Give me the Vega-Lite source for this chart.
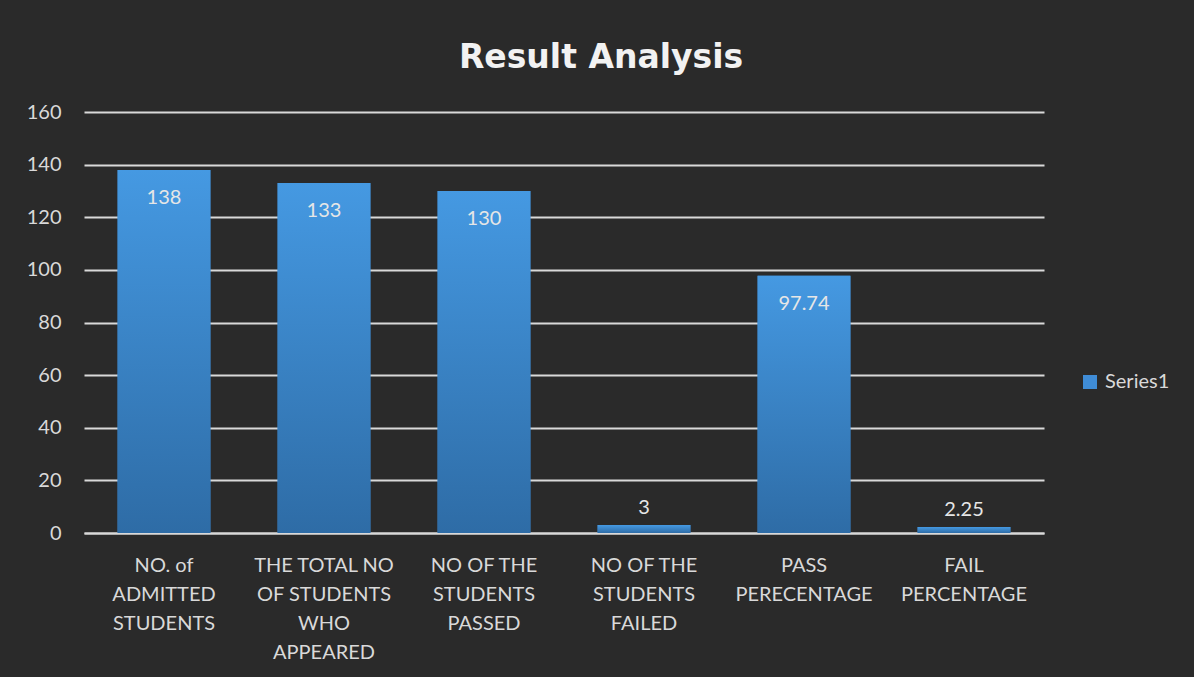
{
  "$schema": "https://vega.github.io/schema/vega-lite/v6.json",
  "width": 960,
  "height": 421,
  "autosize": {"type": "none"},
  "padding": {"left": 84, "top": 112, "right": 150, "bottom": 144},
  "background": "#2a2a2a",
  "title": {
    "text": "Result Analysis",
    "font": "DejaVu Sans",
    "fontSize": 33,
    "fontWeight": "bold",
    "color": "#f2f2f2",
    "anchor": "middle",
    "dx": 37,
    "offset": 27,
    "limit": 0
  },
  "config": {
    "view": {"stroke": null},
    "font": "Lato",
    "text": {"font": "Lato"}
  },
  "data": {
    "values": [
      {"category": "NO. of|ADMITTED|STUDENTS", "value": 138, "series": "Series1"},
      {"category": "THE TOTAL NO|OF STUDENTS|WHO|APPEARED", "value": 133, "series": "Series1"},
      {"category": "NO OF THE|STUDENTS|PASSED", "value": 130, "series": "Series1"},
      {"category": "NO OF THE|STUDENTS|FAILED", "value": 3, "series": "Series1"},
      {"category": "PASS|PERECENTAGE", "value": 97.74, "series": "Series1"},
      {"category": "FAIL|PERCENTAGE", "value": 2.25, "series": "Series1"}
    ]
  },
  "encoding": {
    "x": {
      "field": "category",
      "type": "nominal",
      "sort": ["NO. of|ADMITTED|STUDENTS", "THE TOTAL NO|OF STUDENTS|WHO|APPEARED", "NO OF THE|STUDENTS|PASSED", "NO OF THE|STUDENTS|FAILED", "PASS|PERECENTAGE", "FAIL|PERCENTAGE"],
      "scale": {"paddingInner": 0.42, "paddingOuter": 0.21},
      "axis": {
        "title": null,
        "labelAngle": 0,
        "labelExpr": "split(datum.label, '|')",
        "labelFont": "Lato",
        "labelFontSize": 20,
        "labelColor": "#d9d9d9",
        "labelLineHeight": 29,
        "labelBaseline": "top",
        "labelPadding": 22,
        "labelLimit": 0,
        "ticks": false,
        "domain": true,
        "domainColor": "#d9d9d9",
        "domainWidth": 2,
        "grid": false
      }
    },
    "y": {
      "field": "value",
      "type": "quantitative",
      "scale": {"domain": [0, 160]},
      "axis": {
        "title": null,
        "values": [0, 20, 40, 60, 80, 100, 120, 140, 160],
        "labelFont": "Lato",
        "labelFontSize": 20,
        "labelColor": "#d9d9d9",
        "labelPadding": 23,
        "ticks": false,
        "domain": false,
        "grid": true,
        "gridColor": "#d9d9d9",
        "gridWidth": 2
      }
    }
  },
  "layer": [
    {
      "mark": {"type": "bar"},
      "encoding": {
        "color": {
          "field": "series",
          "type": "nominal",
          "scale": {"range": ["#3f8cd6"]},
          "legend": {
            "title": null,
            "orient": "none",
            "legendX": 996,
            "legendY": 260,
            "symbolType": "square",
            "symbolSize": 196,
            "symbolStrokeWidth": 0,
            "labelFont": "Lato",
            "labelFontSize": 20,
            "labelColor": "#d9d9d9",
            "labelOffset": 5
          }
        }
      }
    },
    {
      "mark": {
        "type": "bar",
        "color": {
          "gradient": "linear",
          "x1": 0, "y1": 0, "x2": 0, "y2": 1,
          "stops": [
            {"offset": 0, "color": "#4599e2"},
            {"offset": 1, "color": "#2e6ca6"}
          ]
        }
      },
      "encoding": {}
    },
    {
      "transform": [{"filter": "datum.value >= 20"}],
      "mark": {"type": "text", "baseline": "middle", "dy": 28, "fontSize": 20, "font": "Lato", "color": "#e6e6e6"},
      "encoding": {"text": {"field": "value", "type": "quantitative"}}
    },
    {
      "transform": [{"filter": "datum.value < 20"}],
      "mark": {"type": "text", "baseline": "middle", "dy": -17, "fontSize": 20, "font": "Lato", "color": "#e6e6e6"},
      "encoding": {"text": {"field": "value", "type": "quantitative"}}
    }
  ]
}
